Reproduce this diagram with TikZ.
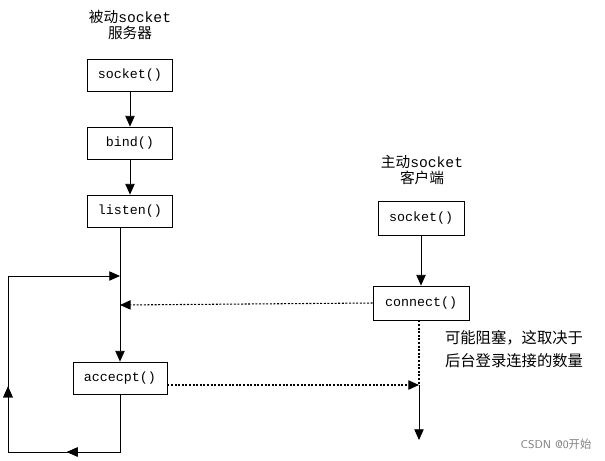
\documentclass[tikz,border=0pt]{standalone}
\usepackage{fontspec}
\setmainfont{Liberation Mono}
\newfontfamily\cjk{Noto Sans CJK SC}
\usetikzlibrary{arrows.meta,decorations.markings}
\begin{document}
\begin{tikzpicture}[x=0.75pt,y=-0.75pt,
  box/.style={draw,semithick,minimum height=24pt,font=\fontsize{10}{12}\selectfont,inner sep=0pt},
  arr/.style={semithick,-{Triangle[length=8pt,width=7pt]}},
  dot/.style={thick,dash pattern=on 1.5pt off 1.2pt,-{Triangle[length=8pt,width=7pt]}},
  midl/.style={postaction={decorate},decoration={markings,mark=at position #1 with {\arrow{Triangle[length=8pt,width=7pt]}}}},
  ttl/.style={font=\fontsize{11}{13}\selectfont,align=center}]
\useasboundingbox (0,0) rectangle (605,460);
\node[ttl] (t1) at (130,25) {{\cjk 被动}socket\\[-1pt]{\cjk 服务器}};
\node[box,minimum width=63.75pt] (s1) at (130,75) {socket()};
\node[box,minimum width=63.75pt] (b) at (130,143) {bind()};
\node[box,minimum width=63.75pt] (l) at (130,211) {listen()};
\node[box,minimum width=70.5pt] (a) at (120,378) {accecpt()};
\node[ttl] (t2) at (422,170) {{\cjk 主动}socket\\[-1pt]{\cjk 客户端}};
\node[box,minimum width=64.5pt,minimum height=25.5pt] (s2) at (421,218) {socket()};
\node[box,minimum width=72pt,minimum height=25.5pt] (c) at (421,303) {connect()};
\node[ttl,font=\cjk\fontsize{11.5}{17}\selectfont,align=left] (n) at (514,349) {可能阻塞，这取决于\\后台登录连接的数量};
\node[font=\fontsize{8.5}{10}\selectfont\sffamily,text=gray] (w) at (556,444) {CSDN @0{\cjk 开始}};
\coordinate (p1) at (120,276);
\coordinate (p2) at (120,305);
\coordinate (q1) at (419,385);
\coordinate (q2) at (419,440);
\coordinate (c1) at (120,452);
\coordinate (c2) at (8,452);
\coordinate (c3) at (8,276);
\draw[arr] (s1) -- (b);
\draw[arr] (b) -- (l);
\draw[arr] (s2) -- (c);
\draw[arr] (l.south -| a) -- (a);
\draw[semithick,midl=0.32,midl=0.68] (a) -- (c1) -- (c2) -- (c3);
\draw[arr] (c3) -- (p1);
\draw[dot] (c.west) -- (p2);
\draw[dot] (a.east |- q1) -- (q1);
\draw[thick,dash pattern=on 1.5pt off 1.2pt] (c.south -| q1) -- (q1);
\draw[arr] (q1) -- (q2);
\end{tikzpicture}
\end{document}
